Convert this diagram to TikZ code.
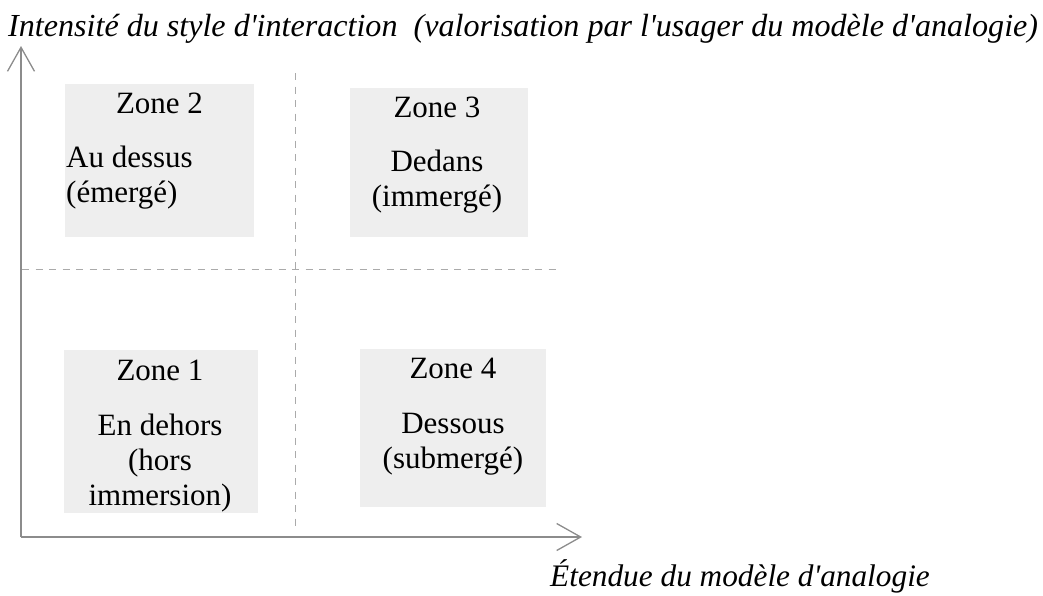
\documentclass[tikz,border=0pt]{standalone}
\usepackage{fontspec}
\setmainfont{Liberation Serif}
\usetikzlibrary{arrows.meta}
\definecolor{boxgray}{RGB}{238,238,238}
\definecolor{axisgray}{RGB}{140,140,140}
\definecolor{dashgray}{RGB}{170,170,170}
\newcommand{\sq}{\textquotesingle}
\tikzset{
  zonebox/.style={draw=none,fill=boxgray,inner sep=0pt},
  zonetitle/.style={inner sep=0pt,anchor=base,font=\fontsize{31}{35}\selectfont},
  zonebody/.style={inner sep=0pt,anchor=base,align=center,font=\fontsize{31}{35}\selectfont},
  axisline/.style={draw=axisgray,line width=1.3pt,-{Straight Barb[length=24pt,width=27pt,line width=1.3pt]}},
  gridline/.style={draw=dashgray,line width=1pt,dash pattern=on 7pt off 6.5pt},
  axislabel/.style={inner sep=0pt,anchor=base west,font=\fontsize{32.1}{35}\itshape\selectfont}
}
\begin{document}
\begin{tikzpicture}[x=1pt,y=-1pt]
\useasboundingbox (0,0) rectangle (1043,595);
% boxes
\fill[boxgray] (65,84) rectangle (254,237);
\fill[boxgray] (350,88) rectangle (528,237);
\fill[boxgray] (64,350) rectangle (258,513);
\fill[boxgray] (360,349) rectangle (546,507);
% grid
\coordinate (vtop) at (295,73);
\coordinate (vbot) at (295,531);
\coordinate (hl) at (22,269);
\coordinate (hr) at (556,269);
\draw[gridline] (vtop) -- (vbot);
\draw[gridline] (hl) -- (hr);
% axes
\coordinate (o) at (21,537);
\coordinate (ytip) at (21,46);
\coordinate (xtip) at (582,537);
\draw[axisline] (o) -- (ytip);
\draw[axisline] (o) -- (xtip);
% labels
\node[axislabel] (ylab) at (8,36) {Intensité du style d\sq interaction\ \ (valorisation par l\sq usager du modèle d\sq analogie)};
\node[axislabel,font=\fontsize{31.3}{35}\itshape\selectfont] (xlab) at (550,586) {Étendue du modèle d\sq analogie};
% zone 2
\node[zonetitle] (t2) at (159.5,113) {Zone 2};
\node[zonebody,anchor=base west,align=left] (b2) at (66,202) {Au dessus\\(émergé)};
% zone 3
\node[zonetitle] (t3) at (437,117) {Zone 3};
\node[zonebody] (b3) at (437,206) {Dedans\\(immergé)};
% zone 1
\node[zonetitle] (t1) at (160,380) {Zone 1};
\node[zonebody] (b1) at (160,505) {En dehors\\(hors\\immersion)};
% zone 4
\node[zonetitle] (t4) at (453,378) {Zone 4};
\node[zonebody] (b4) at (453,468) {Dessous\\(submergé)};
\end{tikzpicture}
\end{document}
